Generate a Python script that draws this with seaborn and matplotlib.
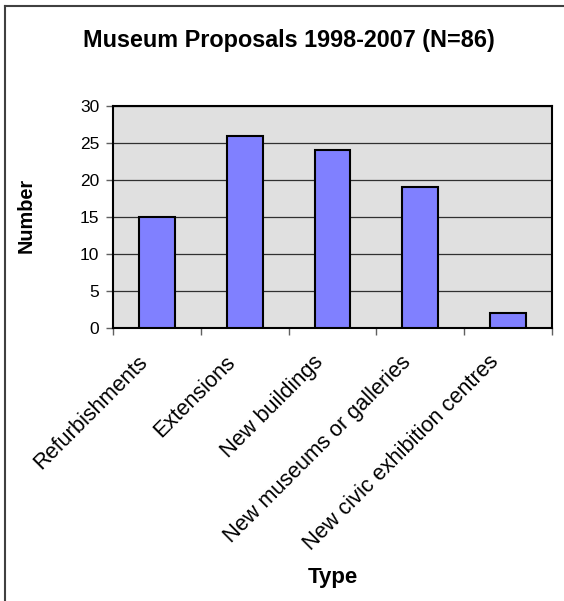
import matplotlib
matplotlib.use("Agg")
import matplotlib.pyplot as plt
import matplotlib.transforms as mtransforms
import seaborn as sns
import pandas as pd
from matplotlib.lines import Line2D

categories = ["Refurbishments", "Extensions", "New buildings",
              "New museums or galleries", "New civic exhibition centres"]
counts = [15, 26, 24, 19, 2]
y_ticks = [0, 5, 10, 15, 20, 25, 30]

plt.rcParams["font.family"] = ["Liberation Sans", "DejaVu Sans"]

df = pd.DataFrame({"Type": categories, "Number": counts})

fig = plt.figure(figsize=(5.64, 6.01), dpi=100)
ax = fig.add_axes([113 / 564, 1 - 328 / 601, (552 - 113) / 564, (328 - 106) / 601])
ax.set_facecolor("#E0E0E0")

sns.barplot(data=df, x="Type", y="Number", ax=ax, color="#8080FF",
            saturation=1, width=0.41, edgecolor="black", linewidth=1.5,
            zorder=3)

ax.set_ylim(0, 30)
ax.set_xlim(-0.5, len(categories) - 0.5)
ax.set_yticks(y_ticks)
ax.set_yticklabels([str(t) for t in y_ticks], fontsize=12.5)
ax.yaxis.grid(True, color="#303030", linewidth=0.9, zorder=1)
ax.set_axisbelow(True)

# category names, rotated; separators drawn as minor ticks below the axis
ax.set_xticks(range(len(categories)))
ax.set_xticklabels(categories, rotation=45, ha="right", va="top",
                   rotation_mode="anchor", fontsize=15.7)
ax.tick_params(axis="x", which="major", length=0, pad=17)
shift = mtransforms.ScaledTranslation(-0.20, 0, fig.dpi_scale_trans)
for lab in ax.get_xticklabels():
    lab.set_transform(lab.get_transform() + shift)
ax.set_xticks([i - 0.5 for i in range(len(categories) + 1)], minor=True)
ax.tick_params(axis="x", which="minor", length=5, width=1, color="#606060")
ax.tick_params(axis="y", length=5, width=1, color="#606060", pad=5)

for s in ax.spines.values():
    s.set_color("black")
    s.set_linewidth(1.5)

ax.set_xlabel("")
ax.set_ylabel("")
fig.text(333 / 564, 1 - 578 / 601, "Type", ha="center", va="center",
         fontsize=16, fontweight="bold")
fig.text(26 / 564, 1 - 215 / 601, "Number", ha="center", va="center",
         rotation=90, fontsize=14.3, fontweight="bold")
fig.text(289 / 564, 1 - 41 / 601, "Museum Proposals 1998-2007 (N=86)",
         ha="center", va="center", fontsize=16.8, fontweight="bold")

# outer chart frame (left and top edges)
fig.add_artist(Line2D([5 / 564, 5 / 564], [0, 1 - 6 / 601], transform=fig.transFigure,
                      color="#404040", linewidth=1.5))
fig.add_artist(Line2D([5 / 564, 1], [1 - 6 / 601, 1 - 6 / 601], transform=fig.transFigure,
                      color="#404040", linewidth=1.5))

fig.savefig("out.png", dpi=100)
